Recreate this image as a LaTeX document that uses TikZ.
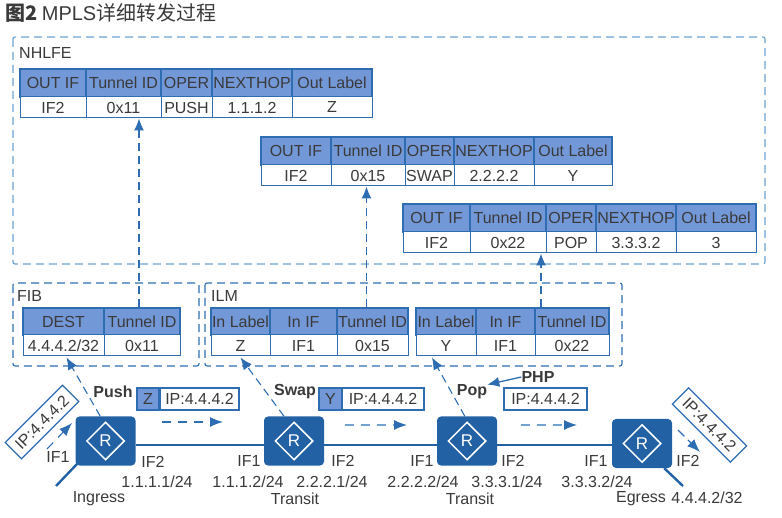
\documentclass[tikz,border=0pt]{standalone}
\usepackage{fontspec}
\setmainfont{Liberation Sans}
\newfontfamily\cjkfont{Noto Sans CJK SC}
\usetikzlibrary{shapes.geometric,arrows.meta,calc}
\definecolor{edgeblue}{HTML}{2E6DB2}
\definecolor{hdrblue}{HTML}{7398D8}
\definecolor{routerblue}{HTML}{2361A5}
\definecolor{softblue}{HTML}{6FA3D3}
\definecolor{inktext}{HTML}{3A3A3A}
\tikzset{
  x=1pt,y=-1pt,
  every node/.style={text=inktext,font=\fontsize{16}{17}\selectfont,inner sep=0pt},
  hdrcell/.style={draw=edgeblue,fill=hdrblue,line width=1.2pt},
  datacell/.style={draw=edgeblue,fill=white,line width=1pt},
  region/.style={draw=edgeblue,line width=1.1pt,dash pattern=on 8pt off 5pt,rounded corners=2pt},
  softregion/.style={draw=softblue,line width=1.2pt,dash pattern=on 8pt off 5pt,rounded corners=2pt},
  router/.style={draw=none,fill=routerblue,rounded corners=4pt,minimum width=60pt,minimum height=49pt},
  rmark/.style={diamond,draw=white,line width=1.5pt,text=white,minimum width=38pt,minimum height=38pt,font=\fontsize{17}{17}\selectfont},
  link/.style={draw=routerblue,line width=2.4pt},
  stub/.style={draw=routerblue,line width=2.4pt},
  lookup/.style={draw=edgeblue,line width=1.1pt,dash pattern=on 8pt off 5pt,-{Latex[length=12pt,width=10pt]}},
  flow/.style={draw=edgeblue,line width=1.1pt,dash pattern=on 9pt off 7pt,-{Latex[length=13pt,width=10pt]}},
  softflow/.style={draw=softblue,line width=1.3pt,dash pattern=on 9pt off 7pt,-{Latex[length=13pt,width=10pt,color=edgeblue]}},
  packet/.style={draw=edgeblue,fill=white,line width=1.1pt},
  boldlab/.style={font=\fontsize{16}{17}\selectfont\bfseries},
}
\newcommand{\tcell}[7]{% style, name, x1, x2, y1, y2, text
  \node[#1,minimum width=#4pt-#3pt,minimum height=#6pt-#5pt] (#2) at ({(#3+#4)/2},{(#5+#6)/2}) {#7};}
\begin{document}
\begin{tikzpicture}
\useasboundingbox (0,0) rectangle (782,518);
% title
\node[anchor=west,font=\fontsize{20}{20}\selectfont\cjkfont] (title) at (5,13) {{\bfseries 图2} {\fontspec{Liberation Sans}MPLS}详细转发过程};
% regions
\draw[softregion] (13,37) rectangle (765,264);
\draw[region] (13,283) rectangle (199,366);
\draw[region] (205,283) rectangle (622,366);
\node[anchor=west] (nhlfelabel) at (19,53) {NHLFE};
\node[anchor=west] (fiblabel) at (17,296) {FIB};
\node[anchor=west] (ilmlabel) at (211,296) {ILM};
% NHLFE table 1
\tcell{hdrcell}{aa}{20}{86}{69}{97}{OUT IF}
\tcell{hdrcell}{ab}{86}{161}{69}{97}{Tunnel ID}
\tcell{hdrcell}{ac}{161}{212}{69}{97}{OPER}
\tcell{hdrcell}{ad}{212}{292}{69}{97}{NEXTHOP}
\tcell{hdrcell}{ae}{292}{372}{69}{97}{Out Label}
\tcell{datacell}{af}{20}{86}{97}{118}{IF2}
\tcell{datacell}{ag}{86}{161}{97}{118}{0x11}
\tcell{datacell}{ah}{161}{212}{97}{118}{PUSH}
\tcell{datacell}{ai}{212}{292}{97}{118}{1.1.1.2}
\tcell{datacell}{aj}{292}{372}{97}{118}{Z}
% NHLFE table 2
\tcell{hdrcell}{ba}{261}{331}{137}{165}{OUT IF}
\tcell{hdrcell}{bb}{331}{405}{137}{165}{Tunnel ID}
\tcell{hdrcell}{bc}{405}{454}{137}{165}{OPER}
\tcell{hdrcell}{bd}{454}{534}{137}{165}{NEXTHOP}
\tcell{hdrcell}{be}{534}{612}{137}{165}{Out Label}
\tcell{datacell}{bf}{261}{331}{165}{186}{IF2}
\tcell{datacell}{bg}{331}{405}{165}{186}{0x15}
\tcell{datacell}{bh}{405}{454}{165}{186}{SWAP}
\tcell{datacell}{bi}{454}{534}{165}{186}{2.2.2.2}
\tcell{datacell}{bj}{534}{612}{165}{186}{Y}
% NHLFE table 3
\tcell{hdrcell}{ca}{403}{470}{204}{232}{OUT IF}
\tcell{hdrcell}{cb}{470}{546}{204}{232}{Tunnel ID}
\tcell{hdrcell}{cc}{546}{596}{204}{232}{OPER}
\tcell{hdrcell}{cd}{596}{676}{204}{232}{NEXTHOP}
\tcell{hdrcell}{ce}{676}{756}{204}{232}{Out Label}
\tcell{datacell}{cf}{403}{470}{232}{253}{IF2}
\tcell{datacell}{cg}{470}{546}{232}{253}{0x22}
\tcell{datacell}{ch}{546}{596}{232}{253}{POP}
\tcell{datacell}{ci}{596}{676}{232}{253}{3.3.3.2}
\tcell{datacell}{cj}{676}{756}{232}{253}{3}
% FIB
\tcell{hdrcell}{fa}{23}{104}{308}{335}{DEST}
\tcell{hdrcell}{fb}{104}{180}{308}{335}{Tunnel ID}
\tcell{datacell}{fc}{23}{104}{335}{356}{4.4.4.2/32}
\tcell{datacell}{fd}{104}{180}{335}{356}{0x11}
% ILM 1
\tcell{hdrcell}{ga}{211}{270}{308}{335}{In Label}
\tcell{hdrcell}{gb}{270}{337}{308}{335}{In IF}
\tcell{hdrcell}{gc}{337}{408}{308}{335}{Tunnel ID}
\tcell{datacell}{gd}{211}{270}{335}{356}{Z}
\tcell{datacell}{ge}{270}{337}{335}{356}{IF1}
\tcell{datacell}{gf}{337}{408}{335}{356}{0x15}
% ILM 2
\tcell{hdrcell}{ha}{416}{476}{308}{335}{In Label}
\tcell{hdrcell}{hb}{476}{535}{308}{335}{In IF}
\tcell{hdrcell}{hc}{535}{609}{308}{335}{Tunnel ID}
\tcell{datacell}{hd}{416}{476}{335}{356}{Y}
\tcell{datacell}{he}{476}{535}{335}{356}{IF1}
\tcell{datacell}{hf}{535}{609}{335}{356}{0x22}
% routers
\node[router] (r1) at (105.5,441) {};
\node[router] (r2) at (294,441) {};
\node[router] (r3) at (467,441) {};
\node[router] (r4) at (642,443.5) {};
\node[rmark] (m1) at (r1) {R};
\node[rmark] (m2) at (r2) {R};
\node[rmark] (m3) at (r3) {R};
\node[rmark] (m4) at (r4) {R};
% links
\draw[link] (r1.east |- 0,445) -- (r2.west |- 0,445);
\draw[link] (r2.east |- 0,445) -- (r3.west |- 0,445);
\draw[link] (r3.east |- 0,445) -- (r4.west |- 0,445);
\coordinate (s1) at (56,486);
\coordinate (s4) at (683,486);
\draw[stub] (r1.south west) ++(2,-2) -- (s1);
\draw[stub] (r4.south east) ++(-8,0) -- (s4);
% lookup arrows
\draw[lookup] ([xshift=-3pt]fb.north) -- ([xshift=-3pt]fb.north |- ag.south);
\draw[lookup] ([xshift=-6pt]gc.north) -- ([xshift=-6pt]gc.north |- bg.south);
\draw[lookup] ([xshift=-31pt]hc.north) -- ([xshift=-31pt]hc.north |- cg.south);
\draw[lookup] (r1.102) -- ($(fc.south)+(3,1)$);
\draw[lookup] (r2.112) -- ($(gd.south)+(0,1)$);
\draw[lookup] (r3.95) -- ($(hd.south)+(-14,1)$);
% packets
\node[packet,fill=hdrblue,minimum width=22pt,minimum height=22pt] (pz) at (148,399) {Z};
\node[packet,minimum width=79pt,minimum height=22pt] (pzip) at (199.5,399) {IP:4.4.4.2};
\node[packet,fill=hdrblue,minimum width=23pt,minimum height=22pt] (py) at (330.5,399) {Y};
\node[packet,minimum width=82pt,minimum height=22pt] (pyip) at (383,399) {IP:4.4.4.2};
\node[packet,minimum width=83pt,minimum height=22pt] (ppip) at (545.5,399) {IP:4.4.4.2};
\node[packet,rotate=45,minimum width=81pt,minimum height=23pt] (pin) at (42,422) {IP:4.4.4.2};
\node[packet,rotate=-45,minimum width=82pt,minimum height=23pt] (pout) at (709.5,425) {IP:4.4.4.2};
% flow arrows
\coordinate (fa1) at (47,449); \coordinate (fa2) at (72,423);
\coordinate (fb1) at (162,422); \coordinate (fb2) at (223,422);
\coordinate (fc1) at (345,425); \coordinate (fc2) at (407,425);
\coordinate (fd1) at (521,425); \coordinate (fd2) at (577,425);
\coordinate (fe1) at (678,430); \coordinate (fe2) at (700,452);
\draw[flow] (fa1) -- (fa2);
\draw[flow] (fb1) -- (fb2);
\draw[softflow] (fc1) -- (fc2);
\draw[softflow] (fd1) -- (fd2);
\draw[flow,dash pattern=on 9pt off 5pt] (fe1) -- (fe2);
% labels
\node[boldlab] (push) at (113,392) {Push};
\node[boldlab] (swap) at (295,392) {Swap};
\node[boldlab] (pop) at (472,392) {Pop};
\node[boldlab] (php) at (538,377) {PHP};
\draw[draw=edgeblue,line width=1.3pt,-{Latex[length=12pt,width=10pt]}] (php.west) -- (pop.north east);
\node (l1) at (58,457) {IF1};
\node (l2) at (153,462) {IF2};
\node (l3) at (157,482) {1.1.1.1/24};
\node (l4) at (99,499) {Ingress};
\node (l5) at (249,461) {IF1};
\node (l6) at (248,482) {1.1.1.2/24};
\node (l7) at (343,461) {IF2};
\node (l8) at (332,482) {2.2.2.1/24};
\node (l9) at (295,499) {Transit};
\node (l10) at (422,461) {IF1};
\node (l11) at (423,482) {2.2.2.2/24};
\node (l12) at (513,461) {IF2};
\node (l13) at (507,482) {3.3.3.1/24};
\node (l14) at (470,499) {Transit};
\node (l15) at (596,461) {IF1};
\node (l16) at (597,482) {3.3.3.2/24};
\node (l17) at (688,461) {IF2};
\node (l18) at (641,499) {Egress};
\node (l19) at (707,498) {4.4.4.2/32};
\end{tikzpicture}
\end{document}
